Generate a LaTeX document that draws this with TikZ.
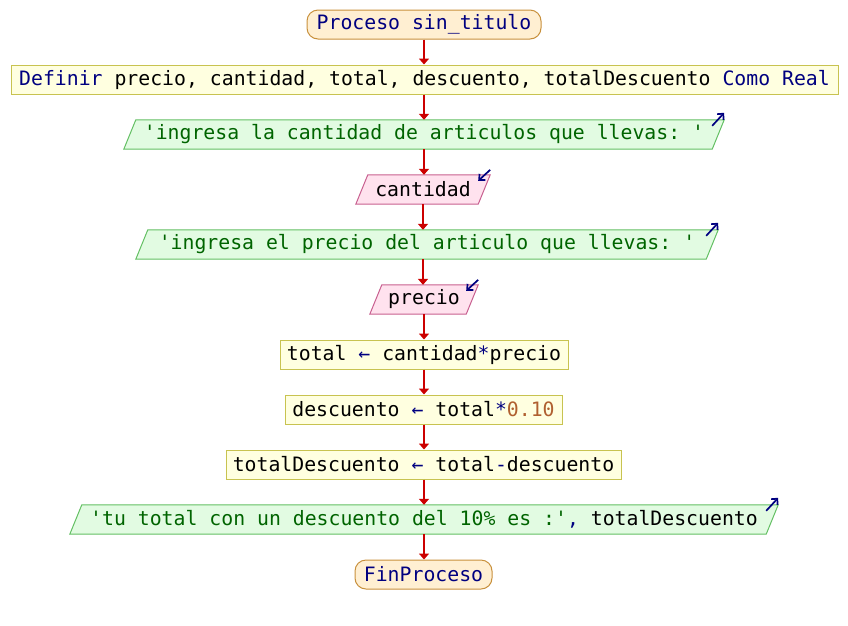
\documentclass[tikz,border=0pt]{standalone}
\usepackage{fontspec}
\setmonofont{DejaVu Sans Mono}
\usetikzlibrary{arrows.meta,calc}
\definecolor{navy}{HTML}{000080}
\definecolor{strgreen}{HTML}{006400}
\definecolor{numbrown}{HTML}{B06030}
\definecolor{termfill}{HTML}{FFEFD2}
\definecolor{termline}{HTML}{C8903C}
\definecolor{boxfill}{HTML}{FFFFE0}
\definecolor{boxline}{HTML}{C8C350}
\definecolor{outfill}{HTML}{E2FBE2}
\definecolor{outline}{HTML}{64C064}
\definecolor{infill}{HTML}{FFE2EE}
\definecolor{inline}{HTML}{C86090}
\definecolor{connred}{HTML}{CC0000}
\pgfdeclarelayer{bg}
\pgfsetlayers{bg,main}
\newcommand\paragram[2]{%
  \draw[#2] ([xshift=-6pt]#1.south west) -- ([xshift=6pt]#1.north west) --
    ([xshift=6pt]#1.north east) -- ([xshift=-6pt]#1.south east) -- cycle;}
\tikzset{
  txt/.style={font=\ttfamily\fontsize{19.8}{24}\selectfont, inner sep=0pt,
    minimum height=29pt, anchor=center},
  term/.style={txt, draw=termline, fill=termfill, line width=1pt, rounded corners=11pt},
  defbox/.style={txt, draw=boxline, fill=boxfill, line width=1pt},
  iobody/.style={txt},
  outshape/.style={draw=outline, fill=outfill, line width=1pt},
  inshape/.style={draw=inline, fill=infill, line width=1pt},
  conn/.style={draw=connred, line width=2pt, -{Triangle[length=6pt,width=10pt]}},
  small/.style={draw=navy, line width=1.7pt, -{Straight Barb[length=4.5pt,width=8.5pt]}}
}
\begin{document}
\begin{tikzpicture}[x=1pt,y=-1pt]
\useasboundingbox (0,0) rectangle (848,625);
\node[term, minimum width=234] (start) at (424,24.5) {\color{navy}Proceso sin\_titulo};
\node[defbox, minimum width=827] (def) at (424.5,79.5) {{\color{navy}Definir} precio, cantidad, total, descuento, totalDescuento {\color{navy}Como Real}};
\node[iobody, minimum width=588] (out1) at (424,134.5) {\color{strgreen}'ingresa la cantidad de articulos que llevas: '};
\node[iobody, minimum width=122] (in1) at (423,189.5) {cantidad};
\node[iobody, minimum width=570] (out2) at (427,244.5) {\color{strgreen}'ingresa el precio del articulo que llevas: '};
\node[iobody, minimum width=96] (in2) at (424,299.5) {precio};
\node[defbox, minimum width=288] (as1) at (424,354.5) {total {\color{navy}←} cantidad{\color{navy}*}precio};
\node[defbox, minimum width=277] (as2) at (423.5,409.5) {descuento {\color{navy}←} total{\color{navy}*}{\color{numbrown}0.10}};
\node[defbox, minimum width=395] (as3) at (423.5,464.5) {totalDescuento {\color{navy}←} total{\color{navy}-}descuento};
\node[iobody, minimum width=696] (out3) at (424,519.5) {{\color{strgreen}'tu total con un descuento del 10\% es :'}{\color{navy},} totalDescuento};
\node[term, minimum width=137] (fin) at (423.5,574.5) {\color{navy}FinProceso};
\begin{pgfonlayer}{bg}
\paragram{out1}{outshape}
\paragram{in1}{inshape}
\paragram{out2}{outshape}
\paragram{in2}{inshape}
\paragram{out3}{outshape}
\end{pgfonlayer}
% connectors
\draw[conn] (start.south) -- (start.south |- def.north);
\draw[conn] (def.south -| start.south) -- (start.south |- out1.north);
\draw[conn] (out1.south) -- (out1.south |- in1.north);
\draw[conn] (in1.south) -- (in1.south |- out2.north);
\draw[conn] (out2.south -| in1.south) -- (in1.south |- in2.north);
\draw[conn] (in2.south) -- (in2.south |- as1.north);
\draw[conn] (as1.south) -- (as1.south |- as2.north);
\draw[conn] (as2.south -| as1.south) -- (as1.south |- as3.north);
\draw[conn] (as3.south -| as1.south) -- (as1.south |- out3.north);
\draw[conn] (out3.south) -- (out3.south |- fin.north);
% io markers
\draw[small] ($(out1.north east)+(-6,6)$) -- ($(out1.north east)+(6,-7)$);
\draw[small] ($(out2.north east)+(-6,6)$) -- ($(out2.north east)+(6,-7)$);
\draw[small] ($(out3.north east)+(-6,6)$) -- ($(out3.north east)+(6,-7)$);
\draw[small] ($(in1.north east)+(6,-5)$) -- ($(in1.north east)+(-6,6)$);
\draw[small] ($(in2.north east)+(6,-5)$) -- ($(in2.north east)+(-6,6)$);
\end{tikzpicture}
\end{document}
